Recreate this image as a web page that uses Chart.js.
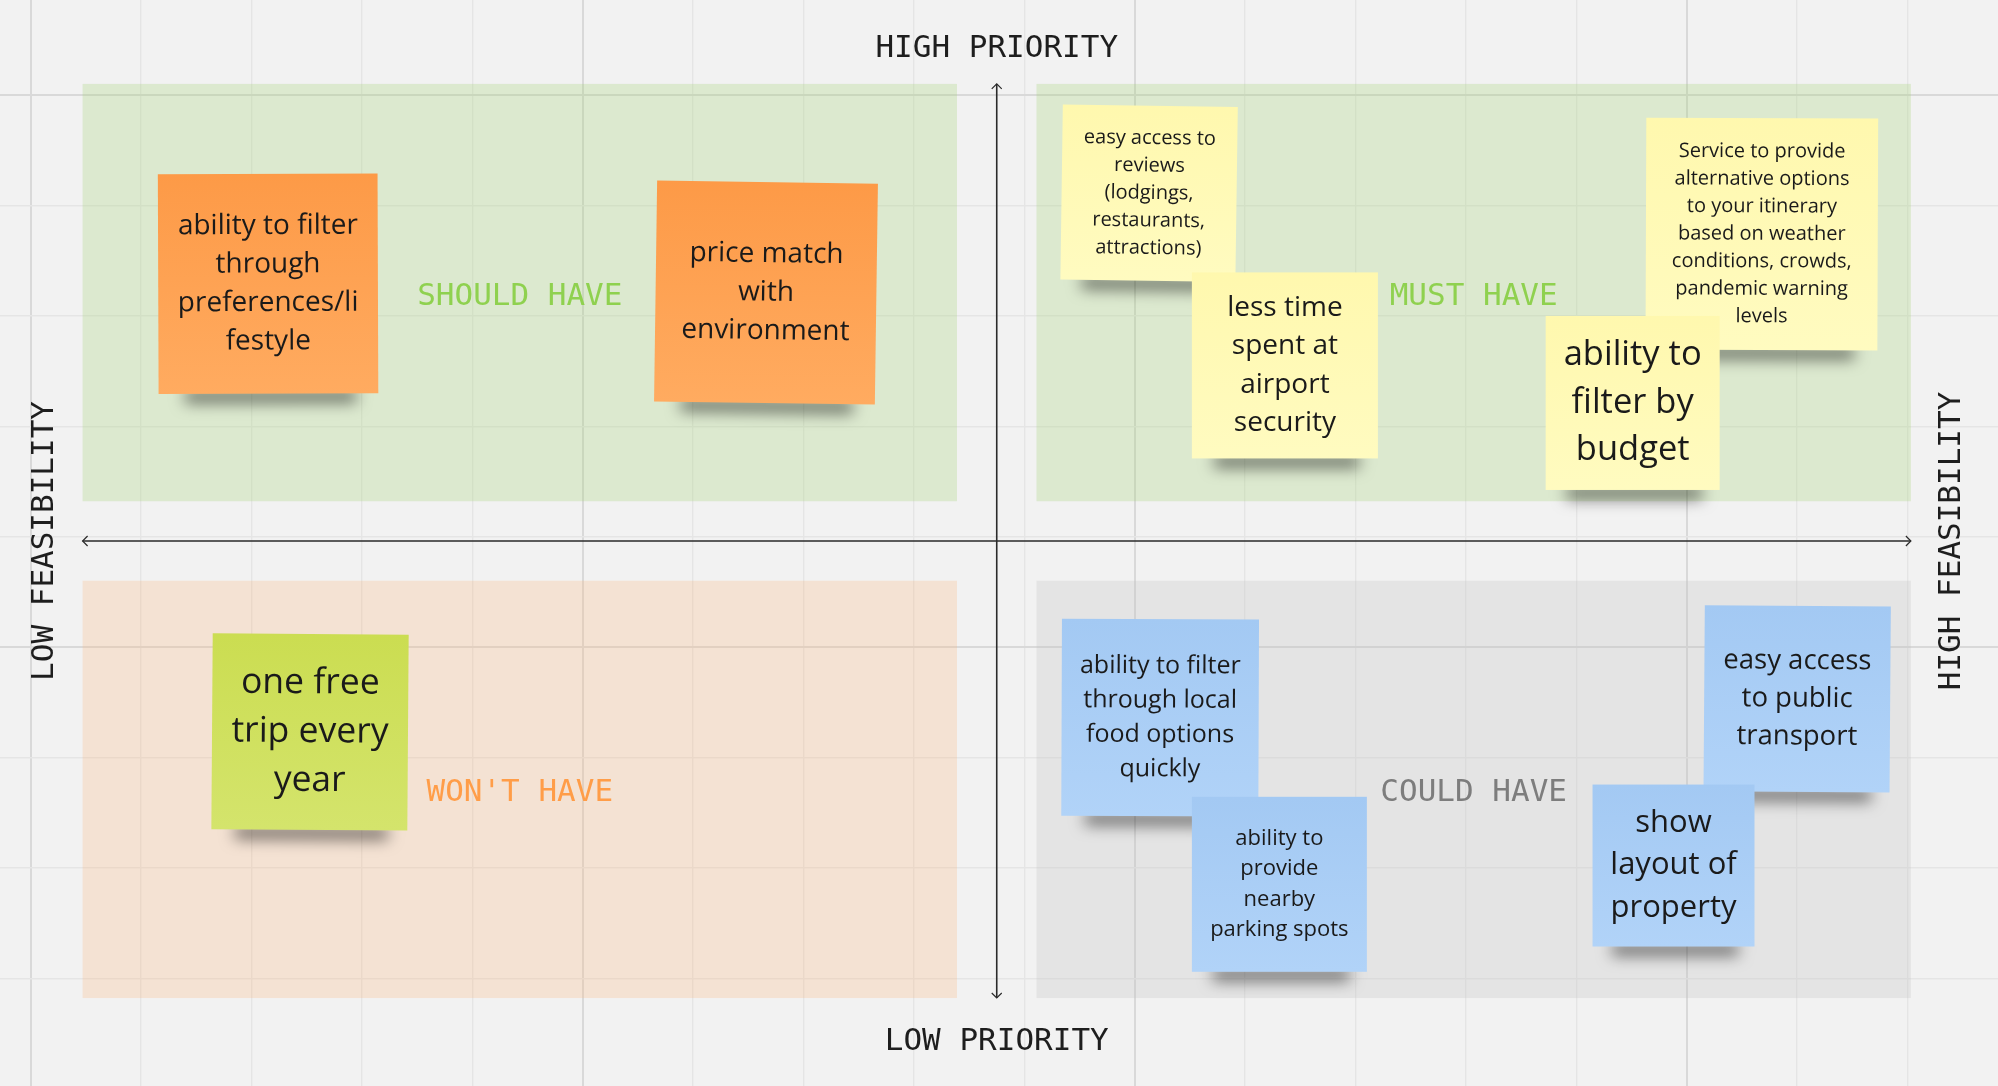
<!DOCTYPE html>
<html>
<head>
<meta charset="utf-8">
<script src="https://cdn.jsdelivr.net/npm/chart.js@4.4.1/dist/chart.umd.min.js"></script>
<style>
html,body{margin:0;padding:0;background:#f2f2f2;}
#wrap{width:1998px;height:1086px;position:relative;}
</style>
</head>
<body>
<div id="wrap"><canvas id="board"></canvas></div>
<script>
// ---------------- DATA ----------------
const quadrantNames = ["SHOULD HAVE", "MUST HAVE", "WON'T HAVE", "COULD HAVE"];
const axisTop = "HIGH PRIORITY";
const axisBottom = "LOW PRIORITY";
const axisLeft = "LOW FEASIBILITY";
const axisRight = "HIGH FEASIBILITY";

const noteTexts = [
  ["ability to filter", "through", "preferences/li", "festyle"],
  ["price match", "with", "environment"],
  ["easy access to", "reviews", "(lodgings,", "restaurants,", "attractions)"],
  ["less time", "spent at", "airport", "security"],
  ["Service to provide", "alternative options", "to your itinerary", "based on weather", "conditions, crowds,", "pandemic warning", "levels"],
  ["ability to", "filter by", "budget"],
  ["one free", "trip every", "year"],
  ["ability to filter", "through local", "food options", "quickly"],
  ["ability to", "provide", "nearby", "parking spots"],
  ["easy access", "to public", "transport"],
  ["show", "layout of", "property"]
];
// feasibility (x) and priority (y) of each note, 0 = centre of the matrix
const noteFeasibility = [-6.60, -2.09, 1.38, 2.61, 6.93, 5.76, -6.22, 1.48, 2.56, 7.25, 6.13];
const notePriority    = [ 2.33,  2.25, 3.15, 1.59, 2.78, 1.25, -1.73, -1.60, -3.11, -1.43, -2.94];
// 0 = should, 1 = must, 2 = won't, 3 = could
const noteGroup       = [0, 0, 1, 1, 1, 1, 2, 3, 3, 3, 3];

// ---------------- LAYOUT / STYLE ----------------
const noteSide = [1.99, 2.00, 1.585, 1.685, 2.10, 1.576, 1.775, 1.785, 1.585, 1.685, 1.467];
const noteFont = [28, 28, 20, 28, 20, 34.5, 35.5, 25, 22, 27.5, 31];
const noteTilt = [-0.2, 0.8, 0.8, 0, 0.2, 0, 0.4, 0.2, 0, 0.4, 0];
const groupTop    = ['#fd9a47', '#fff8ae', '#cbdd51', '#a3c9f3'];
const groupBottom = ['#ffab60', '#fffbc0', '#d4e46c', '#b1d3f8'];
const boxFill = ['rgba(163,211,115,0.27)', 'rgba(163,211,115,0.27)', 'rgba(251,182,125,0.26)', 'rgba(195,195,195,0.28)'];
const labelColor = ['#8fd14f', '#8fd14f', '#ff9d48', '#7d7d7d'];
const QX = 8.28, QY = 4.14, GAP = 0.36;
const GRID_OFF_X = 0.249, GRID_OFF_Y = 0.039;
const monoFont = '"DejaVu Sans Mono", "Liberation Mono", monospace';

function gridValues(min, max, off) {
  const out = [];
  for (let k = Math.ceil(min - off); k <= Math.floor(max - off); k++) out.push(k + off);
  return out;
}
function isMajor(v, majorOff) {
  const r = ((v - majorOff) % 5 + 5) % 5;
  return r < 0.01 || r > 4.99;
}

const datasets = [0, 1, 2, 3].map(g => ({
  label: quadrantNames[g],
  data: noteFeasibility.map((fx, i) => ({ x: fx, y: notePriority[i], i })).filter(p => noteGroup[p.i] === g),
  pointRadius: 0,
  pointHoverRadius: 0
}));

const boardPlugin = {
  id: 'board',
  beforeDraw(chart) {
    const ctx = chart.ctx;
    ctx.save();
    ctx.fillStyle = '#f2f2f2';
    ctx.fillRect(0, 0, chart.width, chart.height);
    ctx.restore();
  },
  beforeDatasetsDraw(chart) {
    const { ctx, scales: { x, y } } = chart;
    ctx.save();
    const sxs = [-1, 1, -1, 1], sys = [1, 1, -1, -1];
    for (let q = 0; q < 4; q++) {
      const xa = x.getPixelForValue(sxs[q] * GAP), xb = x.getPixelForValue(sxs[q] * QX);
      const ya = y.getPixelForValue(sys[q] * GAP), yb = y.getPixelForValue(sys[q] * QY);
      ctx.fillStyle = boxFill[q];
      ctx.fillRect(Math.min(xa, xb), Math.min(ya, yb), Math.abs(xb - xa), Math.abs(yb - ya));
      ctx.fillStyle = labelColor[q];
      ctx.font = '31px ' + monoFont;
      ctx.textAlign = 'center';
      ctx.textBaseline = 'middle';
      ctx.fillText(quadrantNames[q], (xa + xb) / 2, (ya + yb) / 2 + 4);
    }
    // axes with arrows
    const cx = x.getPixelForValue(0), cy = y.getPixelForValue(0);
    const l = x.getPixelForValue(-QX), r = x.getPixelForValue(QX);
    const t = y.getPixelForValue(QY), b = y.getPixelForValue(-QY);
    ctx.strokeStyle = '#2b2b2b';
    ctx.lineWidth = 1.6;
    ctx.beginPath();
    ctx.moveTo(l, cy); ctx.lineTo(r, cy);
    ctx.moveTo(cx, t); ctx.lineTo(cx, b);
    ctx.stroke();
    ctx.lineWidth = 1.2;
    const a = 5;
    ctx.beginPath();
    ctx.moveTo(l + a, cy - a); ctx.lineTo(l, cy); ctx.lineTo(l + a, cy + a);
    ctx.moveTo(r - a, cy - a); ctx.lineTo(r, cy); ctx.lineTo(r - a, cy + a);
    ctx.moveTo(cx - a, t + a); ctx.lineTo(cx, t); ctx.lineTo(cx + a, t + a);
    ctx.moveTo(cx - a, b - a); ctx.lineTo(cx, b); ctx.lineTo(cx + a, b - a);
    ctx.stroke();
    // axis titles
    ctx.fillStyle = '#1e1e1e';
    ctx.font = '31px ' + monoFont;
    ctx.textAlign = 'center';
    ctx.textBaseline = 'middle';
    ctx.fillText(axisTop, cx, y.getPixelForValue(4.455));
    ctx.fillText(axisBottom, cx, y.getPixelForValue(-4.535));
    [[axisLeft, -8.625], [axisRight, 8.65]].forEach(([txt, v]) => {
      ctx.save();
      ctx.translate(x.getPixelForValue(v), cy);
      ctx.rotate(-Math.PI / 2);
      ctx.fillText(txt, 0, 0);
      ctx.restore();
    });
    ctx.restore();
  },
  afterDatasetsDraw(chart) {
    const { ctx, scales: { x } } = chart;
    const unit = x.getPixelForValue(1) - x.getPixelForValue(0);
    const items = [];
    chart.data.datasets.forEach((ds, di) => {
      const meta = chart.getDatasetMeta(di);
      meta.data.forEach((el, k) => items.push({ el, i: ds.data[k].i, g: di }));
    });
    items.sort((p, q) => p.i - q.i);
    items.forEach(({ el, i, g }) => {
      const side = noteSide[i] * unit, h = side / 2;
      ctx.save();
      ctx.translate(el.x, el.y);
      ctx.rotate(noteTilt[i] * Math.PI / 180);
      // soft shadow under the bottom edge
      ctx.save();
      ctx.shadowColor = 'rgba(0,0,0,0.55)';
      ctx.shadowBlur = 15;
      ctx.shadowOffsetY = 11;
      ctx.fillStyle = 'rgba(70,70,70,1)';
      ctx.fillRect(-h + side * 0.12, h - 14, side * 0.78, 12);
      ctx.restore();
      const grad = ctx.createLinearGradient(0, -h, 0, h);
      grad.addColorStop(0, groupTop[g]);
      grad.addColorStop(1, groupBottom[g]);
      ctx.fillStyle = grad;
      ctx.fillRect(-h, -h, side, side);
      const fs = noteFont[i], lh = fs * 1.375, lines = noteTexts[i], n = lines.length;
      ctx.fillStyle = '#1a1a1a';
      ctx.font = fs + 'px "Open Sans"';
      ctx.textAlign = 'center';
      ctx.textBaseline = 'middle';
      lines.forEach((line, k) => ctx.fillText(line, 0, (k - (n - 1) / 2) * lh));
      ctx.restore();
    });
  }
};

const gridCommon = (majorOff) => ({
  drawTicks: false,
  color: c => isMajor(c.tick.value, majorOff) ? '#d9d9d9' : '#e5e5e5',
  lineWidth: c => isMajor(c.tick.value, majorOff) ? 2 : 1.4
});

new Chart(document.getElementById('board'), {
  type: 'scatter',
  data: { datasets },
  options: {
    responsive: true,
    maintainAspectRatio: false,
    devicePixelRatio: 1,
    animation: false,
    layout: { padding: 0 },
    plugins: { legend: { display: false }, tooltip: { enabled: false } },
    events: [],
    scales: {
      x: {
        type: 'linear', min: -9.028, max: 9.069,
        ticks: { display: false },
        border: { display: false },
        grid: gridCommon(1.249),
        afterBuildTicks: s => { s.ticks = gridValues(s.min, s.max, GRID_OFF_X).map(v => ({ value: v })); },
        afterFit: s => { s.height = 0; }
      },
      y: {
        type: 'linear', min: -4.937, max: 4.900,
        ticks: { display: false },
        border: { display: false },
        grid: gridCommon(4.039),
        afterBuildTicks: s => { s.ticks = gridValues(s.min, s.max, GRID_OFF_Y).map(v => ({ value: v })); },
        afterFit: s => { s.width = 0; }
      }
    }
  },
  plugins: [boardPlugin]
});
</script>
</body>
</html>
